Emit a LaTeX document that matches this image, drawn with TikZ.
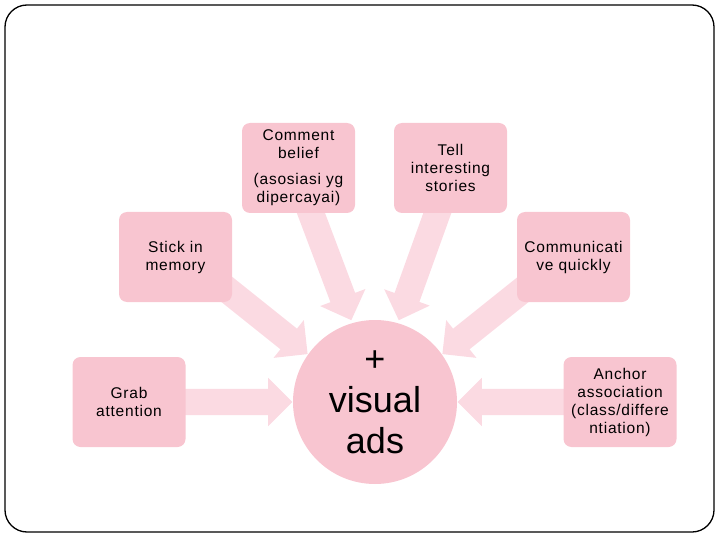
\documentclass[tikz,border=0pt]{standalone}
\usepackage{fontspec}
\setmainfont{Liberation Sans}
\newfontfamily\boxfont[LetterSpace=5]{Liberation Sans}
\usetikzlibrary{shapes.arrows,calc,backgrounds}
\definecolor{boxpink}{RGB}{248,197,208}
\definecolor{arrowpink}{RGB}{251,218,226}
\begin{document}
\begin{tikzpicture}[x=1pt,y=-1pt,
  box/.style={rectangle,rounded corners=8pt,fill=boxpink,minimum width=113pt,minimum height=90pt,
    align=center,inner sep=2pt,font=\boxfont\fontsize{15.5}{18}\selectfont},
  hub/.style={circle,fill=boxpink,minimum size=164pt,align=center,inner sep=0pt,
    font=\fontsize{36}{41}\selectfont},
  blockarrow/.style={single arrow,fill=arrowpink,draw=none,inner xsep=0pt,inner ysep=13pt,
    minimum width=48pt,single arrow tip angle=90,single arrow head extend=11pt}]
\useasboundingbox (0,0) rectangle (720,540);
\draw[line width=1.3pt,rounded corners=22pt] (5,5) rectangle (714,532);

\node[box] (comment) at (298.5,168) {Comment\\belief\\[8pt](asosiasi yg\\dipercayai)};
\node[box] (tell) at (450.5,168) {Tell\\interesting\\stories};
\node[box] (stick) at (175.5,257) {Stick in\\memory};
\node[box] (comm) at (573.5,257) {Communicati\\ve quickly};
\node[box] (grab) at (129,402) {Grab\\attention};
\node[box] (anchor) at (620,402) {Anchor\\association\\(class/differe\\ntiation)};
\node[hub] (c) at (375,402) {+\\visual\\ads};

\coordinate (s1) at ($(grab.east)+(-15,0)$);   \coordinate (t1) at ($(c.west)+(-7,0)$);
\coordinate (s2) at ($(anchor.west)+(15,0)$); \coordinate (t2) at ($(c.east)+(7,0)$);
\coordinate (s3) at (215,280);     \coordinate (t3) at (302.5,350);
\coordinate (s4) at (535,280);     \coordinate (t4) at (447.5,350);
\coordinate (s5) at (306,200);     \coordinate (t5) at (349,314);
\coordinate (s6) at (442,200);     \coordinate (t6) at (401,314);

\begin{scope}[on background layer]
\foreach \s/\t in {s1/t1,s2/t2,s3/t3,s4/t4,s5/t5,s6/t6}{
  \path let \p1=($(\t)-(\s)$), \n1={atan2(\y1,\x1)}, \n2={veclen(\x1,\y1)} in
    node[blockarrow,minimum height=\n2,rotate=\n1] at ($(\s)!0.5!(\t)$) {};
}
\end{scope}
\end{tikzpicture}
\end{document}
